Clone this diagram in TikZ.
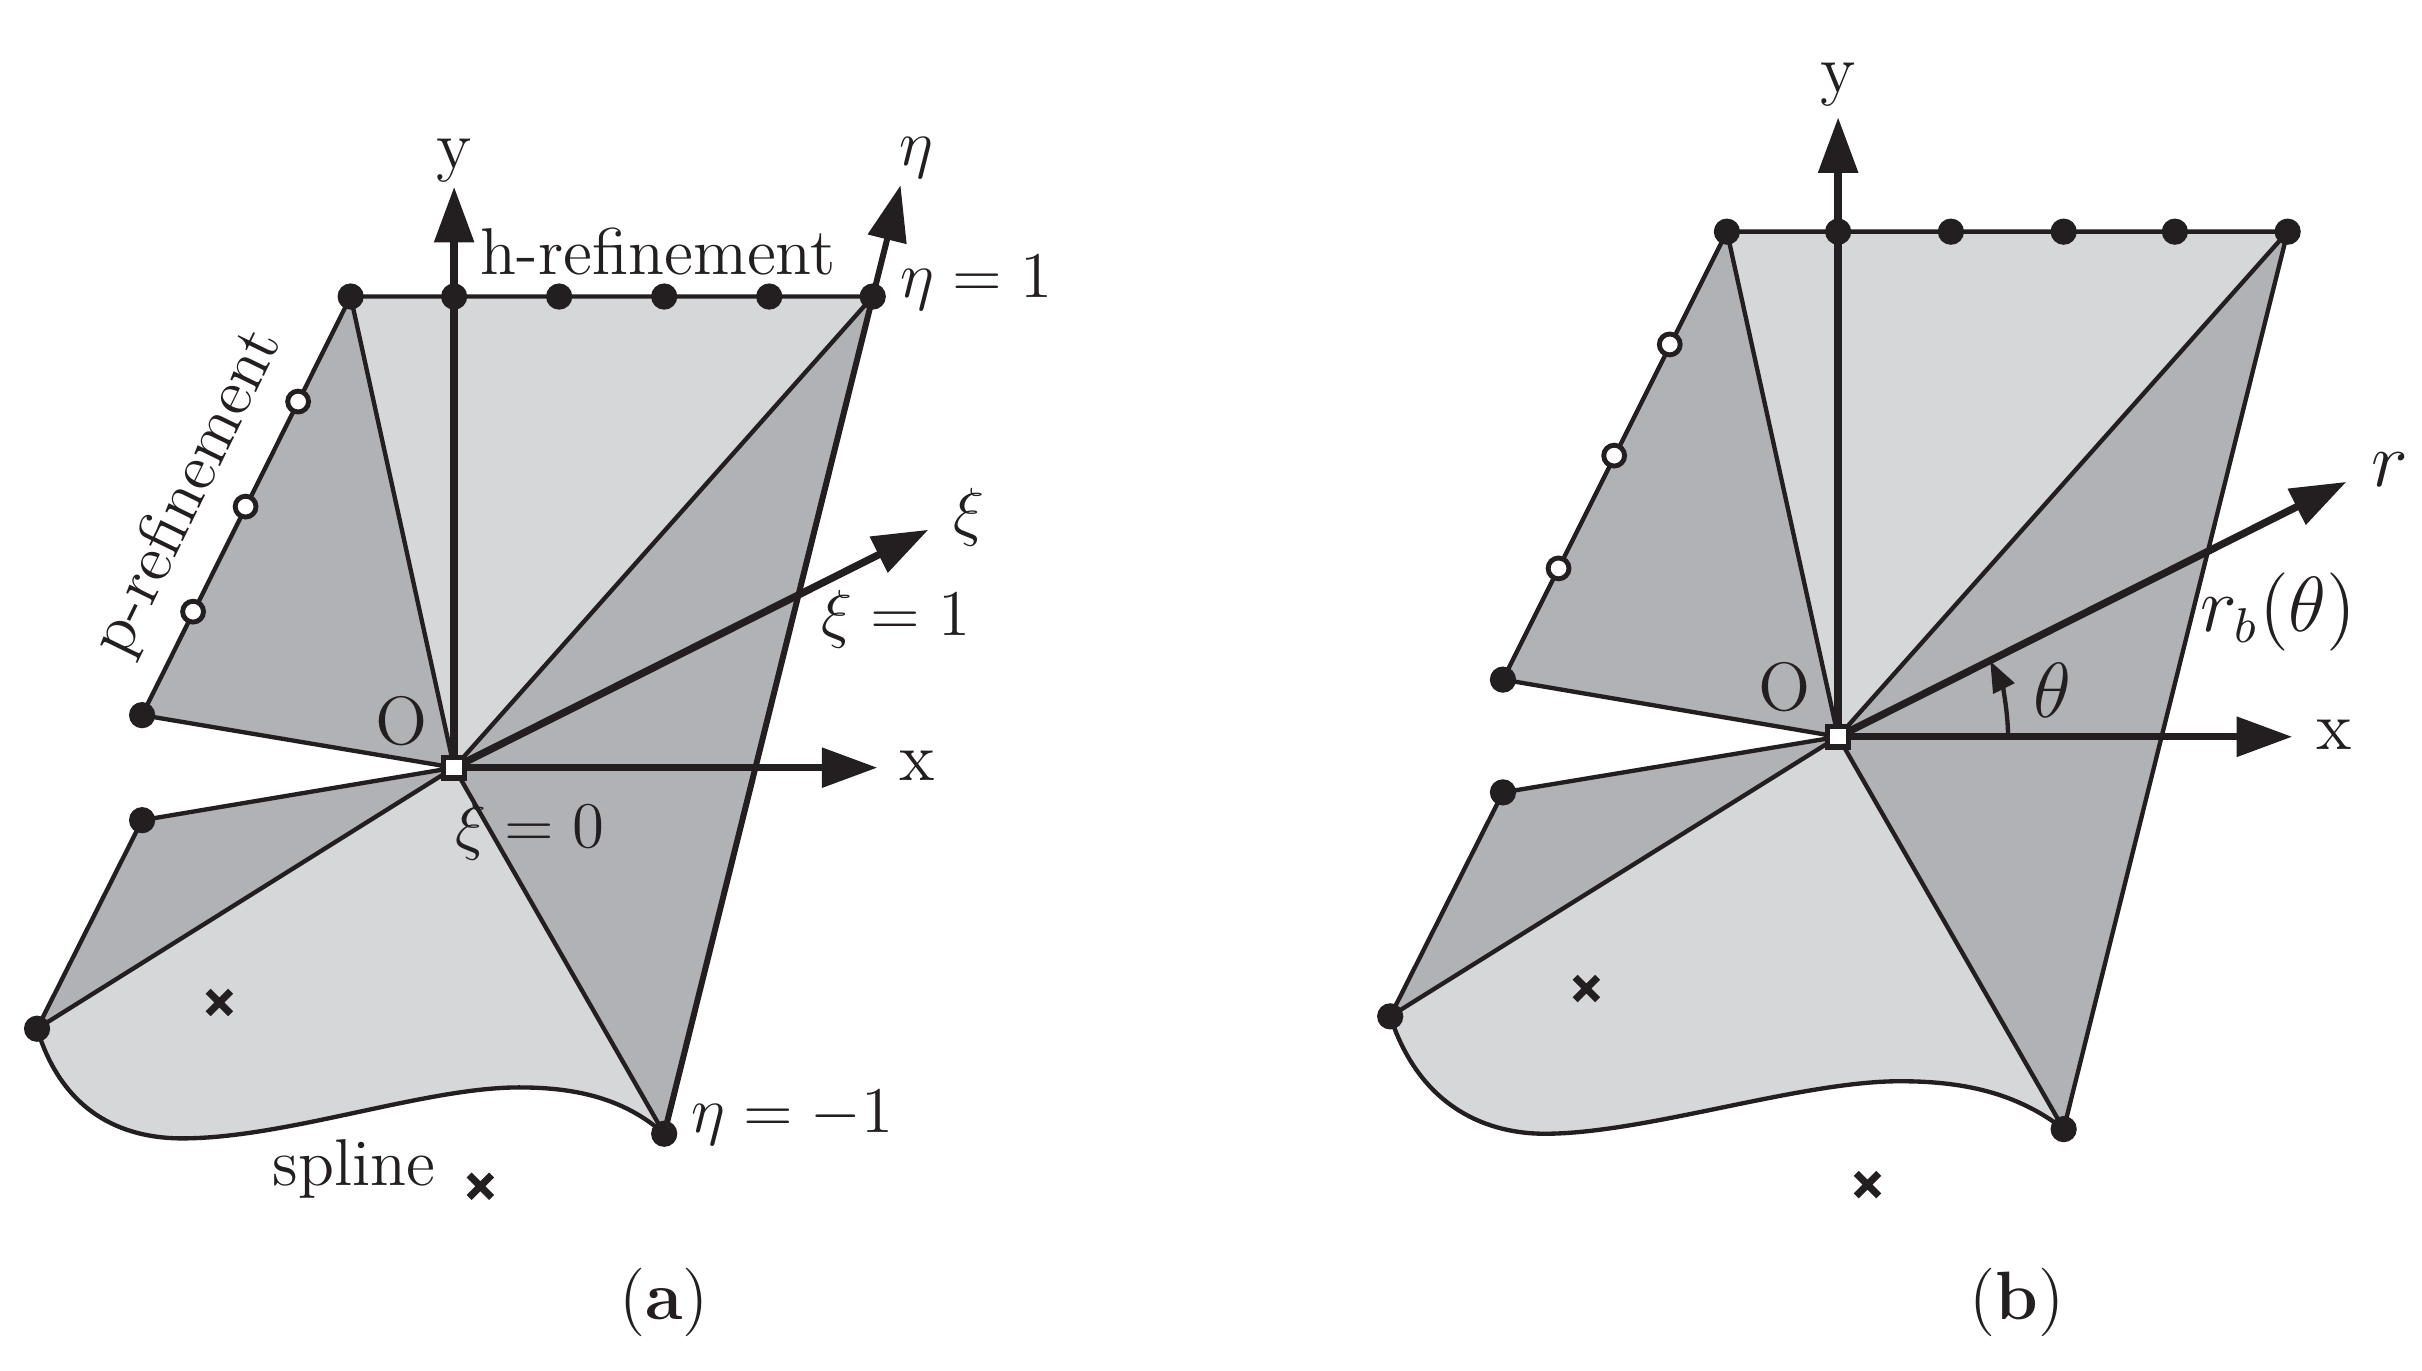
\documentclass[tikz,border=0pt]{standalone}
\usetikzlibrary{arrows.meta,shapes.misc}
\definecolor{lightpatch}{HTML}{D6D7D9}
\definecolor{darkpatch}{HTML}{B1B2B5}
\definecolor{ink}{HTML}{231F20}
\tikzset{
  solidpt/.style={circle,fill=ink,inner sep=0pt,minimum size=1.7mm},
  openpt/.style={circle,draw=ink,fill=white,line width=0.9pt,inner sep=0pt,minimum size=1.35mm},
  origin/.style={rectangle,draw=ink,fill=white,line width=1pt,inner sep=0pt,minimum size=1.35mm},
  crossmark/.style={cross out,draw=ink,line width=1.3pt,inner sep=0pt,minimum size=1mm},
  edge/.style={draw=ink,line width=0.8pt},
  axis/.style={draw=ink,line width=1.35pt,->},
  lbl/.style={text=ink,inner sep=0pt},
  wordlbl/.style={lbl,font=\fontsize{12.2}{15}\selectfont},
  biglbl/.style={lbl,font=\fontsize{13.5}{16}\selectfont}
}
\begin{document}
\begin{tikzpicture}[>={Stealth[length=3.6mm,width=2.5mm,inset=0pt]},font=\fontsize{12.6}{15}\selectfont]
   \useasboundingbox (0,0) rectangle (15.68,8.87);
   % panel a
   \coordinate (Oa) at (2.94,3.90);
   \coordinate (Aa) at (2.27,6.95);
   \coordinate (Ba) at (5.65,6.95);
   \coordinate (Ca) at (4.30,1.53);
   \coordinate (Da) at (0.24,2.21);
   \coordinate (Ea) at (0.92,3.56);
   \coordinate (Fa) at (0.92,4.24);
   \fill[lightpatch] (Aa) -- (Ba) -- (Oa) -- cycle;
   \fill[darkpatch] (Fa) -- (Aa) -- (Oa) -- cycle (Ba) -- (Ca) -- (Oa) -- cycle (Ea) -- (Da) -- (Oa) -- cycle;
   \fill[lightpatch] (Oa) -- (Da) .. controls (0.42,1.62) and (0.85,1.50) .. (1.18,1.50) .. controls (1.85,1.50) and (2.75,1.83) .. (3.36,1.83) .. controls (3.75,1.83) and (4.05,1.75) .. (Ca) -- cycle;
   \draw[edge] (Oa) -- (Fa) -- (Aa) -- (Ba) (Aa) -- (Oa) -- (Ba) (Oa) -- (Ca) (Oa) -- (Ea) -- (Da) -- (Oa);
   \draw[edge] (Da) .. controls (0.42,1.62) and (0.85,1.50) .. (1.18,1.50) .. controls (1.85,1.50) and (2.75,1.83) .. (3.36,1.83) .. controls (3.75,1.83) and (4.05,1.75) .. (Ca);
   \coordinate (ya) at (2.94,7.66);
   \coordinate (xa) at (5.68,3.90);
   \coordinate (xia) at (6.01,5.44);
   \coordinate (etaa) at (5.83,7.67);
   \draw[axis] (Oa) -- (ya);
   \draw[axis] (Oa) -- (xa);
   \draw[axis] (Oa) -- (xia);
   \draw[axis,line width=1.1pt] (Ca) -- (etaa);
   \node[solidpt] (a1) at (Aa) {};
   \node[solidpt] (a2) at (2.94,6.95) {};
   \node[solidpt] (a3) at (3.62,6.95) {};
   \node[solidpt] (a4) at (4.30,6.95) {};
   \node[solidpt] (a5) at (4.98,6.95) {};
   \node[solidpt] (a6) at (Ba) {};
   \node[solidpt] (a7) at (Fa) {};
   \node[solidpt] (a8) at (Ea) {};
   \node[solidpt] (a9) at (Da) {};
   \node[solidpt] (a10) at (Ca) {};
   \node[openpt] (p1a) at (1.25,4.91) {};
   \node[openpt] (p2a) at (1.59,5.59) {};
   \node[openpt] (p3a) at (1.93,6.27) {};
   \node[origin] (oa) at (Oa) {};
   \node[crossmark] (c1a) at (1.42,2.38) {};
   \node[crossmark] (c2a) at (3.11,1.19) {};
   \node[lbl] (ylaba) at (2.94,7.83) {y};
   \node[lbl] (etalab) at (5.93,7.85) {$\eta$};
   \node[lbl] (xilab) at (6.27,5.52) {$\xi$};
   \node[lbl] (xlaba) at (5.94,3.91) {x};
   \node[lbl] (eta1) at (6.32,7.04) {$\eta=1$};
   \node[lbl] (xi1) at (5.80,4.86) {$\xi=1$};
   \node[lbl] (xi0) at (3.43,3.49) {$\xi=0$};
   \node[lbl] (etam1) at (5.13,1.63) {$\eta=-1$};
   \node[wordlbl] (splinelab) at (2.29,1.30) {spline};
   \node[lbl] (olaba) at (2.60,4.20) {O};
   \node[wordlbl] (hlab) at (4.26,7.24) {h-refinement};
   \node[wordlbl,rotate=64] (plab) at (1.22,5.68) {p-refinement};
   \node[lbl] (capa) at (4.30,0.44) {(\textbf{a})};
   % panel b
   \coordinate (Ob) at (11.90,4.10);
   \coordinate (Ab) at (11.18,7.37);
   \coordinate (Bb) at (14.81,7.37);
   \coordinate (Cb) at (13.36,1.56);
   \coordinate (Db) at (9.00,2.29);
   \coordinate (Eb) at (9.73,3.74);
   \coordinate (Fb) at (9.73,4.47);
   \fill[lightpatch] (Ab) -- (Bb) -- (Ob) -- cycle;
   \fill[darkpatch] (Fb) -- (Ab) -- (Ob) -- cycle (Bb) -- (Cb) -- (Ob) -- cycle (Eb) -- (Db) -- (Ob) -- cycle;
   \fill[lightpatch] (Ob) -- (Db) .. controls (9.20,1.68) and (9.65,1.53) .. (10.00,1.53) .. controls (10.65,1.53) and (11.65,1.87) .. (12.30,1.87) .. controls (12.70,1.87) and (13.05,1.80) .. (Cb) -- cycle;
   \draw[edge] (Ob) -- (Fb) -- (Ab) -- (Bb) -- (Cb) (Ab) -- (Ob) -- (Bb) (Ob) -- (Cb) (Ob) -- (Eb) -- (Db) -- (Ob);
   \draw[edge] (Db) .. controls (9.20,1.68) and (9.65,1.53) .. (10.00,1.53) .. controls (10.65,1.53) and (11.65,1.87) .. (12.30,1.87) .. controls (12.70,1.87) and (13.05,1.80) .. (Cb);
   \coordinate (yb) at (11.90,8.11);
   \coordinate (xb) at (14.84,4.10);
   \coordinate (rb) at (15.19,5.75);
   \draw[axis] (Ob) -- (yb);
   \draw[axis] (Ob) -- (xb);
   \draw[axis] (Ob) -- (rb);
   \draw[draw=ink,line width=0.8pt,-{Stealth[length=2mm,width=1.5mm,inset=0pt]}] (13.00,4.10) arc (0:26.5:1.10);
   \node[solidpt] (b1) at (Ab) {};
   \node[solidpt] (b2) at (11.90,7.37) {};
   \node[solidpt] (b3) at (12.63,7.37) {};
   \node[solidpt] (b4) at (13.36,7.37) {};
   \node[solidpt] (b5) at (14.08,7.37) {};
   \node[solidpt] (b6) at (Bb) {};
   \node[solidpt] (b7) at (Fb) {};
   \node[solidpt] (b8) at (Eb) {};
   \node[solidpt] (b9) at (Db) {};
   \node[solidpt] (b10) at (Cb) {};
   \node[openpt] (p1b) at (10.09,5.19) {};
   \node[openpt] (p2b) at (10.45,5.92) {};
   \node[openpt] (p3b) at (10.81,6.64) {};
   \node[origin] (ob) at (Ob) {};
   \node[crossmark] (c1b) at (10.27,2.47) {};
   \node[crossmark] (c2b) at (12.09,1.20) {};
   \node[lbl] (ylabb) at (11.90,8.32) {y};
   \node[lbl] (xlabb) at (15.11,4.11) {x};
   \node[biglbl] (rlab) at (15.47,5.83) {$r$};
   \node[biglbl] (rblab) at (14.75,4.91) {$r_b(\theta)$};
   \node[biglbl] (thlab) at (13.29,4.40) {$\theta$};
   \node[lbl] (olabb) at (11.55,4.42) {O};
   \node[lbl] (capb) at (13.06,0.44) {(\textbf{b})};
\end{tikzpicture}
\end{document}
